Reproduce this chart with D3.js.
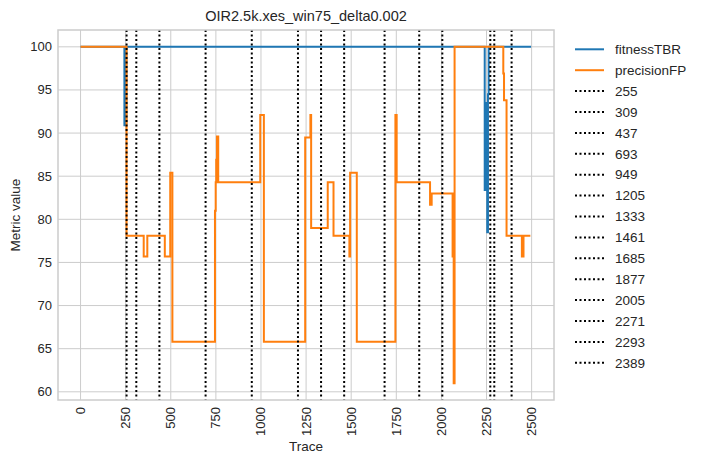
<!DOCTYPE html>
<html>
<head>
<meta charset="utf-8">
<script src="https://cdn.jsdelivr.net/npm/d3@7"></script>
<style>
  body { margin: 0; background: #fff; }
  svg { font-family: "Liberation Sans", Arial, sans-serif; }
  .tick-label { font-size: 13px; fill: #262626; }
  .axis-label { font-size: 13.5px; fill: #262626; }
  .legend-label { font-size: 13.5px; fill: #262626; }
</style>
</head>
<body>
<div id="chart"></div>
<script>
// change points: value holds from this trace until the next one
const fitnessTrace = [0, 243, 254, 2240, 2243, 2247, 2250, 2254, 2258, 2262, 2497];
const fitnessValue = [100, 90.9, 100, 83.4, 93.5, 83.5, 91, 78.5, 94.5, 100, 100];

const precisionTrace = [0, 255, 350, 370, 467, 497, 509, 745, 749, 752, 756, 763, 996, 1016,
  1245, 1274, 1278, 1370, 1402, 1490, 1494, 1531, 1745, 1752, 1937, 1946, 2062, 2068, 2073,
  2343, 2347, 2361, 2446, 2455, 2493];
const precisionValue = [100, 78.1, 75.7, 78.1, 75.7, 85.4, 65.8, 81.0, 84.3, 86.9, 89.6, 84.3, 92.1, 65.8,
  89.5, 92.1, 79.0, 84.3, 78.1, 75.7, 85.4, 65.8, 92.1, 84.3, 81.7, 83.0, 75.7, 61.0, 100,
  96.9, 93.8, 78.1, 75.7, 78.1, 78.1];

const driftPoints = [255, 309, 437, 693, 949, 1205, 1333, 1461, 1685, 1877, 2005, 2271, 2293, 2389];

const xTicks = [0, 250, 500, 750, 1000, 1250, 1500, 1750, 2000, 2250, 2500];
const yTicks = [60, 65, 70, 75, 80, 85, 90, 95, 100];

const width = 703, height = 465;
const margin = { top: 30, right: 149, bottom: 65, left: 58 };
const plotW = width - margin.left - margin.right;
const plotH = height - margin.top - margin.bottom;
const dotted = '2,2.5';

const svg = d3.select('#chart').append('svg')
  .attr('width', width)
  .attr('height', height);

const x = d3.scaleLinear().domain([-125, 2624]).range([margin.left, margin.left + plotW]);
const y = d3.scaleLinear().domain([59.05, 101.95]).range([margin.top + plotH, margin.top]);

// grid
const grid = svg.append('g').attr('stroke', '#cccccc').attr('stroke-width', 1);
grid.selectAll('line.gx').data(xTicks).join('line')
  .attr('x1', d => x(d)).attr('x2', d => x(d))
  .attr('y1', margin.top).attr('y2', margin.top + plotH);
grid.selectAll('line.gy').data(yTicks).join('line')
  .attr('x1', margin.left).attr('x2', margin.left + plotW)
  .attr('y1', d => y(d)).attr('y2', d => y(d));

// tick labels
svg.append('g').selectAll('text').data(yTicks).join('text')
  .attr('class', 'tick-label')
  .attr('x', margin.left - 6)
  .attr('y', d => y(d))
  .attr('dy', '0.35em')
  .attr('text-anchor', 'end')
  .text(d => d);

svg.append('g').selectAll('text').data(xTicks).join('text')
  .attr('class', 'tick-label')
  .attr('text-anchor', 'end')
  .attr('transform', d => `translate(${x(d) + 4.5},${margin.top + plotH + 7}) rotate(-90)`)
  .text(d => d);

function toPoints(tr, vals) {
  return tr.map((t, i) => [t, vals[i]]);
}

const line = d3.line()
  .x(d => x(d[0]))
  .y(d => y(d[1]))
  .curve(d3.curveStepAfter);

const plot = svg.append('g');

plot.append('path')
  .datum(toPoints(fitnessTrace, fitnessValue))
  .attr('fill', 'none')
  .attr('stroke', '#1f77b4')
  .attr('stroke-width', 2)
  .attr('d', line);

plot.append('path')
  .datum(toPoints(precisionTrace, precisionValue))
  .attr('fill', 'none')
  .attr('stroke', '#ff7f0e')
  .attr('stroke-width', 2)
  .attr('d', line);

plot.append('g').selectAll('line').data(driftPoints).join('line')
  .attr('x1', d => x(d)).attr('x2', d => x(d))
  .attr('y1', margin.top).attr('y2', margin.top + plotH)
  .attr('stroke', '#000')
  .attr('stroke-width', 2)
  .attr('stroke-dasharray', dotted);

// frame
svg.append('rect')
  .attr('x', margin.left).attr('y', margin.top)
  .attr('width', plotW).attr('height', plotH)
  .attr('fill', 'none')
  .attr('stroke', '#cccccc')
  .attr('stroke-width', 1.5);

// title and axis labels
svg.append('text')
  .attr('x', margin.left + plotW / 2)
  .attr('y', 21)
  .attr('text-anchor', 'middle')
  .style('font-size', '14.5px')
  .attr('fill', '#262626')
  .text('OIR2.5k.xes_win75_delta0.002');

svg.append('text')
  .attr('class', 'axis-label')
  .attr('x', margin.left + plotW / 2)
  .attr('y', 451)
  .attr('text-anchor', 'middle')
  .text('Trace');

svg.append('text')
  .attr('class', 'axis-label')
  .attr('transform', `translate(20,${margin.top + plotH / 2}) rotate(-90)`)
  .attr('text-anchor', 'middle')
  .text('Metric value');

// legend
const legendItems = [
  { label: 'fitnessTBR', color: '#1f77b4', dash: null },
  { label: 'precisionFP', color: '#ff7f0e', dash: null }
].concat(driftPoints.map(d => ({ label: String(d), color: '#000', dash: dotted })));

const legend = svg.append('g').attr('transform', 'translate(575,49.3)');
const rows = legend.selectAll('g').data(legendItems).join('g')
  .attr('transform', (d, i) => `translate(0,${i * 20.9})`);
rows.append('line')
  .attr('x1', 0).attr('x2', 29)
  .attr('stroke', d => d.color)
  .attr('stroke-width', 2)
  .attr('stroke-dasharray', d => d.dash);
rows.append('text')
  .attr('class', 'legend-label')
  .attr('x', 40)
  .attr('dy', '0.35em')
  .text(d => d.label);
</script>
</body>
</html>
